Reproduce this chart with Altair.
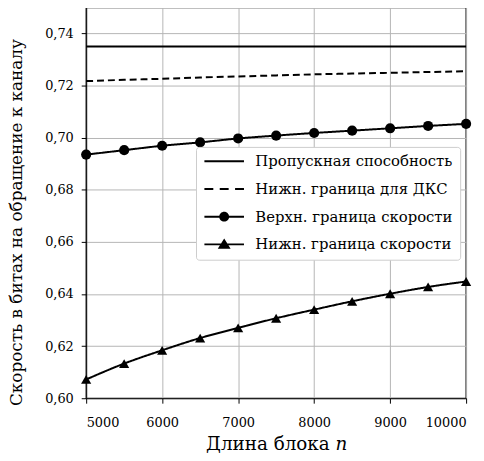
import altair as alt
import pandas as pd

n_values = [5000, 5500, 6000, 6500, 7000, 7500, 8000, 8500, 9000, 9500, 10000]
capacity = [0.735] * 11
dks_lower = [0.7217, 0.7222, 0.7226, 0.7231, 0.7235, 0.7239, 0.7243, 0.7246, 0.7249, 0.7252, 0.7255]
rate_upper = [0.6935, 0.6952, 0.6969, 0.6982, 0.6997, 0.7008, 0.7018, 0.7027, 0.7036, 0.7045, 0.7053]
rate_lower = [0.6072, 0.6133, 0.6184, 0.6231, 0.6270, 0.6307, 0.6340, 0.6372, 0.6401, 0.6427, 0.6448]

series_names = [
    "Пропускная способность",
    "Нижн. граница для ДКС",
    "Верхн. граница скорости",
    "Нижн. граница скорости",
]
y_ticks = [0.60, 0.62, 0.64, 0.66, 0.68, 0.70, 0.72, 0.74]
x_ticks = [5000, 6000, 7000, 8000, 9000, 10000]

rows = []
for name, vals in zip(series_names, [capacity, dks_lower, rate_upper, rate_lower]):
    for n, v in zip(n_values, vals):
        rows.append({"n": n, "rate": v, "series": name})
df = pd.DataFrame(rows)

FONT = "DejaVu Serif"

x_enc = alt.X("n:Q", scale=alt.Scale(domain=[5000, 10000], nice=False),
              axis=alt.Axis(values=x_ticks, format="d", title="Длина блока 𝑛",
                            labelPadding=14, titlePadding=5))
y_enc = alt.Y("rate:Q", scale=alt.Scale(domain=[0.60, 0.75], nice=False, zero=False),
              axis=alt.Axis(values=y_ticks,
                            labelExpr="replace(format(datum.value, '.2f'), '.', ',')",
                            title="Скорость в битах на обращение к каналу",
                            titleFontSize=17,
                            labelPadding=8, titlePadding=19, titleY=217))

lines = alt.Chart(df).mark_line(color="black", strokeWidth=2, interpolate="monotone").encode(
    x=x_enc, y=y_enc,
    detail="series:N",
    strokeDash=alt.StrokeDash("series:N", scale=alt.Scale(domain=series_names,
                              range=[[1, 0], [7, 4], [1, 0], [1, 0]]), legend=None),
)

points = alt.Chart(df).transform_filter(
    alt.FieldOneOfPredicate(field="series", oneOf=series_names[2:])
).mark_point(filled=True, color="black", opacity=1, size=105).encode(
    x=x_enc, y=y_enc,
    shape=alt.Shape("series:N", scale=alt.Scale(domain=series_names[2:],
                    range=["circle", "triangle-up"]), legend=None),
)

# legend glyphs drawn as filled shapes (line = thin rectangle)
LINE = "M-3.333,-0.167H3.333V0.167H-3.333Z"
legend_paths = [
    LINE,
    "M-3.333,-0.167H-1.833V0.167H-3.333ZM-0.75,-0.167H0.75V0.167H-0.75ZM1.833,-0.167H3.333V0.167H1.833Z",
    LINE + "M0.833,0A0.833,0.833,0,1,1,-0.833,0A0.833,0.833,0,1,1,0.833,0Z",
    LINE + "M0,-1.0L1.083,0.75L-1.083,0.75Z",
]

legend_layer = alt.Chart(df).mark_point(filled=True, color="black", opacity=0).encode(
    x=x_enc, y=y_enc,
    shape=alt.Shape("series:N", scale=alt.Scale(domain=series_names, range=legend_paths),
                    legend=alt.Legend(
                        title=None, orient="none", legendX=111, legendY=141,
                        symbolSize=144, symbolFillColor="black", symbolStrokeColor="black",
                        symbolStrokeWidth=0, symbolOpacity=1, symbolOffset=14,
                        labelFont=FONT, labelFontSize=15, labelColor="black",
                        labelOffset=24, labelLimit=400, rowPadding=12, padding=7,
                        fillColor="white", strokeColor="#cccccc", cornerRadius=3,
                    )),
)

chart = alt.layer(lines, points, legend_layer).resolve_scale(shape="independent").properties(
    width=384, height=395,
    padding={"left": 0, "top": -3, "right": 0, "bottom": 0},
    background="white",
).configure_view(stroke="black", strokeWidth=1.4).configure_axis(
    labelFont=FONT, labelFontSize=13, labelColor="black",
    titleFont=FONT, titleFontSize=18.5, titleColor="black", titleFontWeight="normal",
    domainColor="black", tickColor="black", tickSize=5,
    gridColor="#b5b5b5", gridWidth=1, grid=True,
)

chart.save("out.html", embed_options={"renderer": "svg", "actions": False})
